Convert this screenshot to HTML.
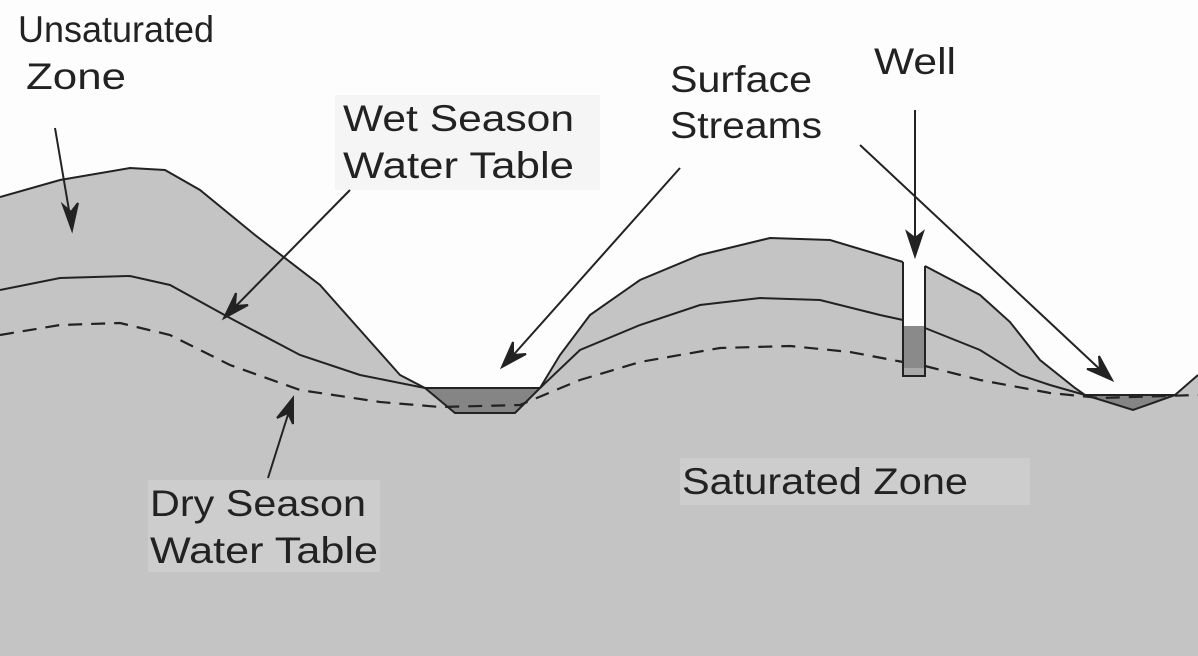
<!DOCTYPE html>
<html><head><meta charset="utf-8"><style>
html,body{margin:0;padding:0;background:#fff;}
svg{display:block;}
text{font-family:"Liberation Sans",sans-serif;fill:#222;font-size:37px;}
</style></head><body>
<svg width="1198" height="656" viewBox="0 0 1198 656" xmlns="http://www.w3.org/2000/svg">
<rect width="1198" height="656" fill="#fdfdfd"/>
<rect x="335" y="95" width="265" height="95" fill="#f5f5f5"/>
<path d="M0,197 L60,180 L130,168 L165,170 L200,190 L255,235 L320,285 L360,330 L400,375 L425,388 L540,388 L560,355 L590,315 L640,280 L700,255 L770,238 L830,240 L880,255 L903,262 L903,262 L925,266 L980,295 L1010,322 L1040,360 L1075,388 L1085,395 L1175,395 L1198,375 L1198,656 L0,656 Z" fill="#c3c4c3"/>
<rect x="904" y="262" width="20" height="64" fill="#fdfdfd"/>
<rect x="903" y="326" width="22" height="42" fill="#8a8a8a"/>
<rect x="903" y="368" width="22" height="8" fill="#a8a8a8"/>
<path d="M903,262 V376 H925 V266" fill="none" stroke="#222" stroke-width="2"/>
<rect x="680" y="458" width="350" height="47" fill="#cdcdcd"/>
<rect x="148" y="480" width="232" height="92" fill="#cdcdcd"/>
<path d="M425,388 L540,388 L515,413 L455,413 Z" fill="#858585" stroke="#222" stroke-width="2"/>
<path d="M1085,395 L1175,395 L1133,410 Z" fill="#858585" stroke="#222" stroke-width="2"/>
<path d="M0,197 L60,180 L130,168 L165,170 L200,190 L255,235 L320,285 L360,330 L400,375 L425,388 M540,388 L560,355 L590,315 L640,280 L700,255 L770,238 L830,240 L880,255 L903,262 M925,266 L980,295 L1010,322 L1040,360 L1075,388 L1085,395 M1175,395 L1198,375" fill="none" stroke="#222" stroke-width="2"/>
<path d="M0,290 L60,278 L130,276 L170,285 L230,318 L300,355 L360,375 L425,388 M540,388 L580,350 L640,325 L700,305 L760,298 L820,300 L880,315 L903,320 M925,328 L980,350 L1020,375 L1050,385 L1085,395" fill="none" stroke="#222" stroke-width="2"/>
<path d="M0,335 L60,325 L120,323 L170,335 L230,365 L300,390 L380,402 L440,407 L520,405 L580,380 L640,362 L720,348 L790,346 L850,352 L903,362 M925,366 L980,380 L1050,393 L1100,398 L1198,395" fill="none" stroke="#222" stroke-width="2.2" stroke-dasharray="14,9"/>
<g stroke="#222" stroke-width="2" fill="#222">
<line x1="55" y1="128" x2="71" y2="222"/>
<path d="M72,230 L63,205 L71,212 L78,203 Z"/>
<line x1="350" y1="190" x2="230" y2="312"/>
<path d="M224,318 L236,293 L235,306 L248,305 Z"/>
<line x1="680" y1="168" x2="508" y2="361"/>
<path d="M502,367 L513,342 L513,355 L526,354 Z"/>
<line x1="860" y1="145" x2="1106" y2="375"/>
<path d="M1112,380 L1087,369 L1100,369 L1099,356 Z"/>
<line x1="915" y1="110" x2="915" y2="248"/>
<path d="M915,256 L907,232 L915,238 L923,232 Z"/>
<line x1="268" y1="478" x2="291" y2="405"/>
<path d="M293,398 L293,424 L288,413 L277,418 Z"/>
</g>
<text x="18" y="42" textLength="196" lengthAdjust="spacingAndGlyphs">Unsaturated</text>
<text x="26" y="89" textLength="100" lengthAdjust="spacingAndGlyphs">Zone</text>
<text x="343" y="131" textLength="231" lengthAdjust="spacingAndGlyphs">Wet Season</text>
<text x="343" y="178" textLength="231" lengthAdjust="spacingAndGlyphs">Water Table</text>
<text x="670" y="92" textLength="142" lengthAdjust="spacingAndGlyphs">Surface</text>
<text x="670" y="138" textLength="152" lengthAdjust="spacingAndGlyphs">Streams</text>
<text x="874" y="74" textLength="82" lengthAdjust="spacingAndGlyphs">Well</text>
<text x="682" y="494" textLength="286" lengthAdjust="spacingAndGlyphs">Saturated Zone</text>
<text x="150" y="516" textLength="216" lengthAdjust="spacingAndGlyphs">Dry Season</text>
<text x="150" y="563" textLength="228" lengthAdjust="spacingAndGlyphs">Water Table</text>
</svg>
</body></html>
